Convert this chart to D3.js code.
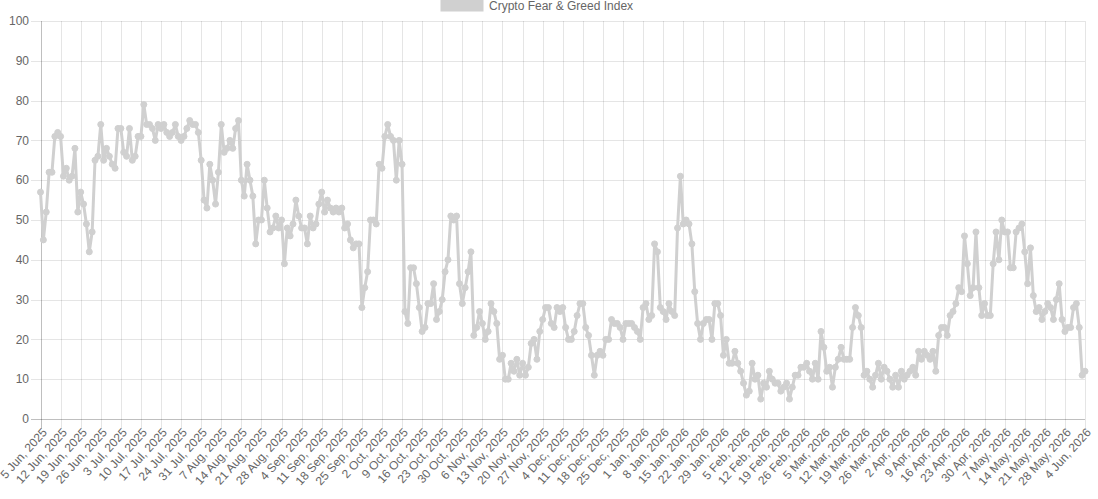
<!DOCTYPE html>
<html><head><meta charset="utf-8">
<script src="https://cdn.jsdelivr.net/npm/d3@7"></script>
<style>
body{margin:0;background:#fff}
svg{display:block}
text{font-family:"Liberation Sans",Arial,Helvetica,sans-serif}
</style>
</head><body><svg id="c" width="1098" height="499"></svg>
<script>
const seriesName = "Crypto Fear & Greed Index";
const startDate = "2025-06-05";
// one value per day, 5 Jun 2025 .. 4 Jun 2026
const fearGreed = [
 57,45,52,62,62,71,72,71,61,63,60,61,68,52,57,54,49,42,47,65,66,74,65,68,66,64,63,73,73,67,66,73,65,66,71,71,79,
 74,74,73,70,74,73,74,72,71,72,74,71,70,71,73,75,74,74,72,65,55,53,64,60,54,62,74,67,68,70,68,73,75,60,56,64,
 60,56,44,50,50,60,53,47,48,51,48,50,39,48,46,49,55,51,48,48,44,51,48,49,54,57,52,55,53,52,53,52,53,48,49,45,43,
 44,44,28,33,37,50,50,49,64,63,71,74,71,70,60,70,64,27,24,38,38,34,28,22,23,29,29,34,25,27,30,37,40,51,50,51,34,29,33,37,42,
 21,23,27,24,20,22,29,27,24,15,16,10,10,14,12,15,11,14,11,13,19,20,15,22,25,28,28,24,23,28,27,28,
 23,20,20,22,26,29,29,23,21,16,11,16,17,16,20,20,25,24,24,23,20,24,24,24,23,22,20,28,29,25,26,
 44,42,28,27,25,29,27,26,48,61,49,50,49,44,32,24,20,24,25,25,20,29,29,26,16,20,14,14,17,14,12,9,6,7,14,10,11,
 5,9,8,12,10,9,9,7,8,9,5,8,11,11,13,13,14,12,10,14,10,22,18,12,13,8,13,15,18,15,15,15,23,28,26,23,11,12,10,8,11,
 14,10,13,12,10,8,11,8,12,10,11,12,13,11,17,15,17,16,15,17,12,21,23,23,21,26,27,29,33,32,46,39,31,33,47,33,26,29,
 26,26,39,47,40,50,47,47,38,38,47,48,49,42,34,43,31,27,28,25,27,29,28,25,30,34,25,22,23,23,28,29,23,11,12
];
const yTicks = [0,10,20,30,40,50,60,70,80,90,100];
const xTickLabels = [
 "5 Jun, 2025","12 Jun, 2025","19 Jun, 2025","26 Jun, 2025","3 Jul, 2025","10 Jul, 2025","17 Jul, 2025","24 Jul, 2025","31 Jul, 2025",
 "7 Aug, 2025","14 Aug, 2025","21 Aug, 2025","28 Aug, 2025","4 Sep, 2025","11 Sep, 2025","18 Sep, 2025","25 Sep, 2025",
 "2 Oct, 2025","9 Oct, 2025","16 Oct, 2025","23 Oct, 2025","30 Oct, 2025","6 Nov, 2025","13 Nov, 2025","20 Nov, 2025","27 Nov, 2025",
 "4 Dec, 2025","11 Dec, 2025","18 Dec, 2025","25 Dec, 2025","1 Jan, 2026","8 Jan, 2026","15 Jan, 2026","22 Jan, 2026","29 Jan, 2026",
 "5 Feb, 2026","12 Feb, 2026","19 Feb, 2026","26 Feb, 2026","5 Mar, 2026","12 Mar, 2026","19 Mar, 2026","26 Mar, 2026",
 "2 Apr, 2026","9 Apr, 2026","16 Apr, 2026","23 Apr, 2026","30 Apr, 2026","7 May, 2026","14 May, 2026","21 May, 2026","28 May, 2026","4 Jun, 2026"
];

(function(){
const lineColor = "#d0d0d0";
const svg = d3.select("#c");
const pL = 40.5, pR = 1085, pT = 21, pB = 419;
const nDays = (xTickLabels.length - 1) * 7;
const x = d3.scaleLinear().domain([0, nDays]).range([pL, pR]);
const y = d3.scaleLinear().domain([0, 100]).range([pB, pT]);

const yg = svg.append("g");
yTicks.forEach(t => {
  const py = Math.round(y(t)) + 0.5;
  yg.append("line").attr("x1", 31).attr("x2", pR).attr("y1", py).attr("y2", py)
    .attr("stroke", t === 0 ? "rgba(0,0,0,0.25)" : "rgba(0,0,0,0.1)").attr("stroke-width", 1);
  yg.append("text").attr("x", 29).attr("y", y(t)).attr("dy", "0.35em").attr("text-anchor", "end")
    .attr("font-size", 12).attr("fill", "#666").text(t);
});
const xg = svg.append("g");
xTickLabels.forEach((lab, i) => {
  const px = Math.round(x(i*7)) + 0.5;
  xg.append("line").attr("x1", px).attr("x2", px).attr("y1", pT).attr("y2", pB + 10)
    .attr("stroke", i === 0 ? "rgba(0,0,0,0.25)" : "rgba(0,0,0,0.1)").attr("stroke-width", 1);
  xg.append("text").attr("transform", `translate(${px+3},${pB+11}) rotate(-48)`)
    .attr("text-anchor", "end").attr("dy", "0.35em").attr("font-size", 12).attr("fill", "#666").text(lab);
});

const data = fearGreed.map((v, i) => ({i, v}));
const line = d3.line().x(d => x(d.i)).y(d => y(d.v));
svg.append("path").datum(data).attr("d", line).attr("fill", "none")
  .attr("stroke", lineColor).attr("stroke-width", 3).attr("stroke-linejoin", "round");
svg.append("g").selectAll("circle").data(data).join("circle")
  .attr("cx", d => x(d.i)).attr("cy", d => y(d.v)).attr("r", 3)
  .attr("fill", lineColor).attr("stroke", lineColor).attr("stroke-width", 1);

svg.append("rect").attr("x", 441).attr("y", -1).attr("width", 42).attr("height", 12)
  .attr("fill", lineColor).attr("stroke", lineColor).attr("stroke-width", 1);
svg.append("text").attr("x", 489).attr("y", 6).attr("dy", "0.35em").attr("font-size", 12).attr("fill", "#666").text(seriesName);
})();
</script>
</body></html>
